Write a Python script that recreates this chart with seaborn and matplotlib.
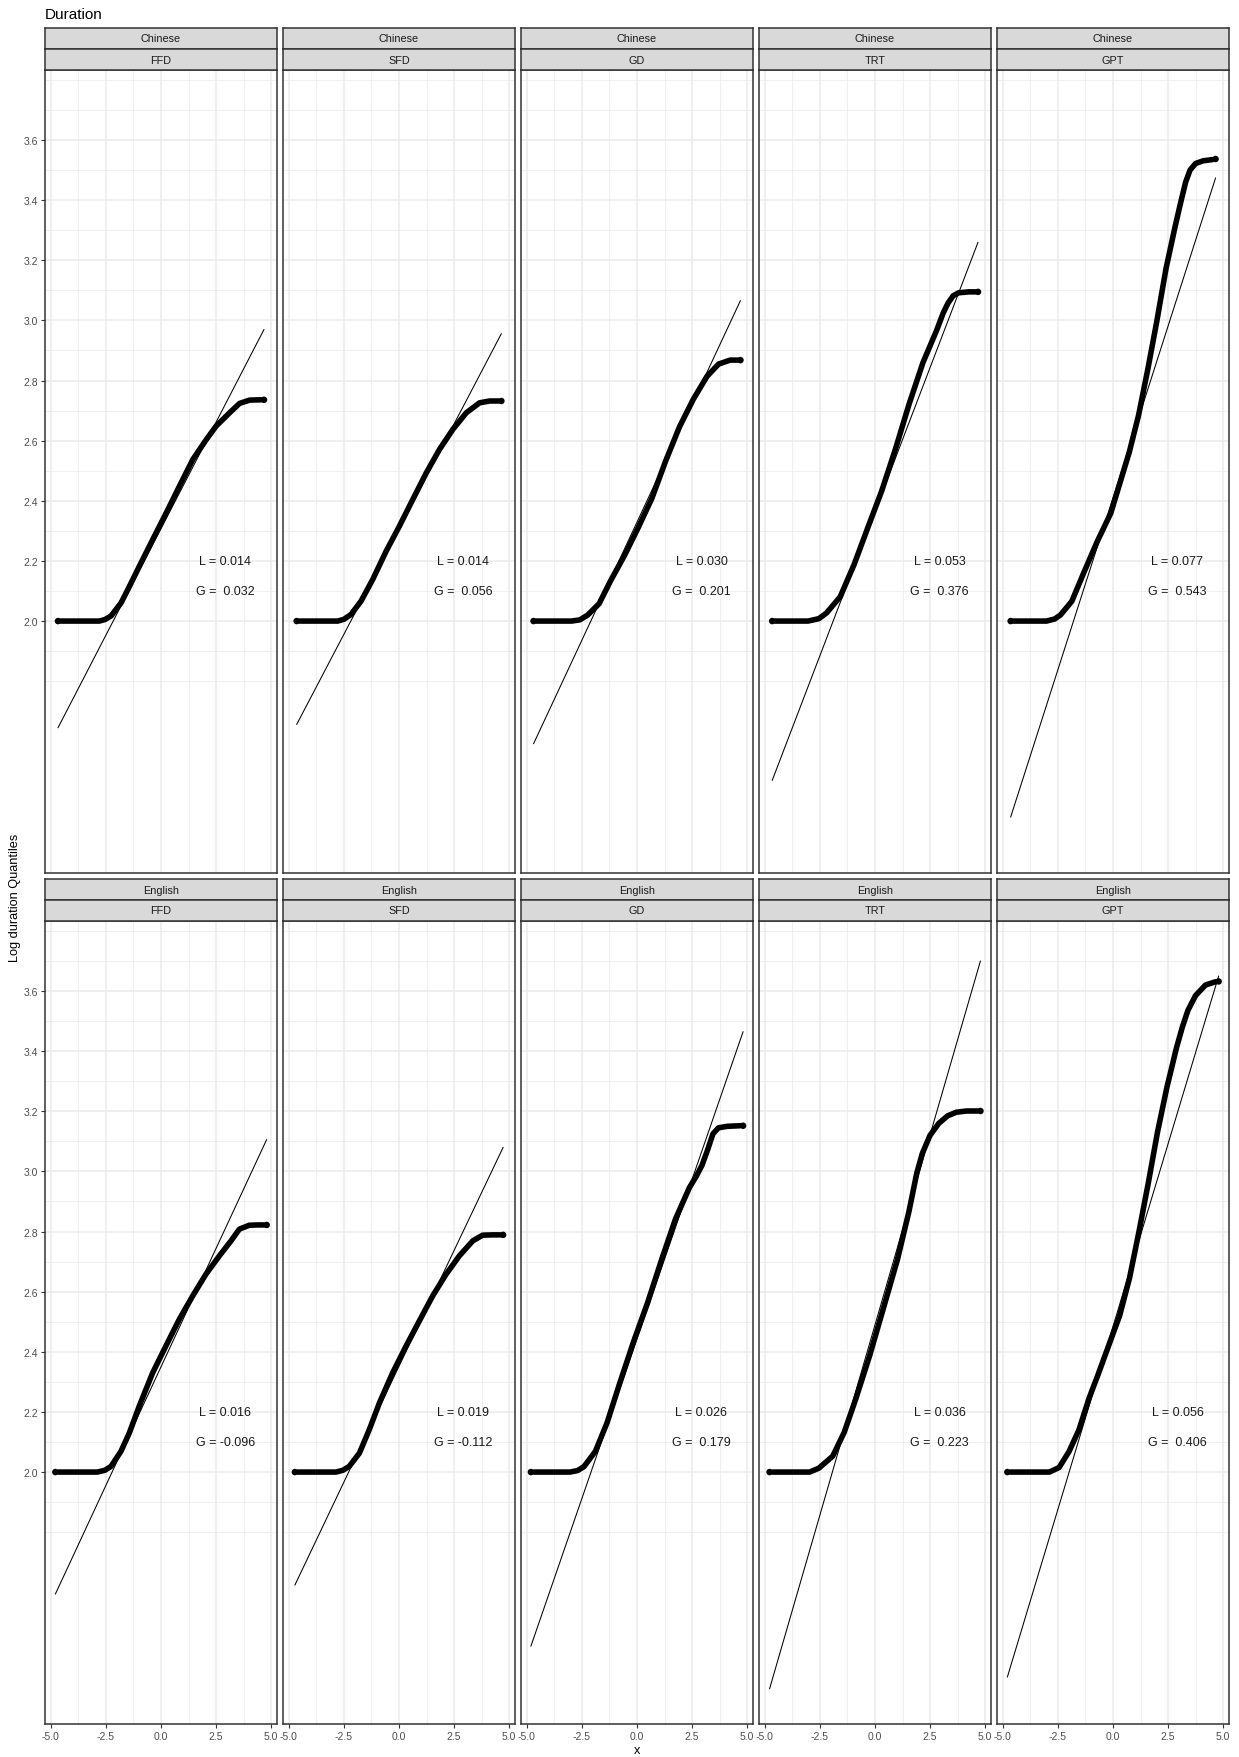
import matplotlib
matplotlib.use("Agg")
import matplotlib.pyplot as plt
import seaborn as sns
import numpy as np
import pandas as pd
from matplotlib.ticker import FixedLocator, FixedFormatter

# ---------------- data ----------------
LANGUAGES = ["Chinese", "English"]
MEASURES = ["FFD", "SFD", "GD", "TRT", "GPT"]

CN_FFD_X = [-4.68, -4.55, -3.50, -2.80, -2.55, -2.27, -1.81, -1.43, -0.98, -0.37, 0.24, 0.84, 1.45, 2.06, 2.51, 3.12, 3.57, 4.03, 4.55, 4.68]
CN_FFD_Y = [2.000, 2.000, 2.000, 2.000, 2.005, 2.017, 2.061, 2.116, 2.183, 2.272, 2.360, 2.449, 2.538, 2.604, 2.649, 2.693, 2.724, 2.735, 2.736, 2.736]
CN_FFD_LINE_X = [-4.68, 4.68]
CN_FFD_LINE_Y = [1.645, 2.970]

CN_SFD_X = [-4.65, -4.52, -3.50, -2.78, -2.50, -2.18, -1.72, -1.19, -0.58, 0.02, 0.63, 1.24, 1.84, 2.45, 3.06, 3.66, 4.12, 4.52, 4.65]
CN_SFD_Y = [2.000, 2.000, 2.000, 2.000, 2.006, 2.022, 2.067, 2.139, 2.233, 2.316, 2.405, 2.493, 2.571, 2.638, 2.693, 2.726, 2.732, 2.732, 2.732]
CN_SFD_LINE_X = [-4.65, 4.65]
CN_SFD_LINE_Y = [1.656, 2.956]

CN_GD_X = [-4.70, -4.57, -2.97, -2.60, -2.24, -1.72, -1.20, -0.57, 0.05, 0.68, 1.30, 1.93, 2.56, 3.18, 3.71, 4.23, 4.57, 4.70]
CN_GD_Y = [2.000, 2.000, 2.000, 2.004, 2.020, 2.058, 2.134, 2.218, 2.310, 2.409, 2.532, 2.646, 2.738, 2.814, 2.855, 2.868, 2.868, 2.868]
CN_GD_LINE_X = [-4.70, 4.70]
CN_GD_LINE_Y = [1.592, 3.066]

CN_TRT_X = [-4.67, -4.54, -3.04, -2.55, -2.20, -1.58, -0.95, -0.33, 0.30, 0.92, 1.55, 2.18, 2.80, 3.10, 3.32, 3.55, 3.80, 4.26, 4.55, 4.68]
CN_TRT_Y = [2.000, 2.000, 2.000, 2.008, 2.027, 2.081, 2.188, 2.310, 2.432, 2.570, 2.722, 2.860, 2.967, 3.025, 3.058, 3.082, 3.092, 3.095, 3.095, 3.095]
CN_TRT_LINE_X = [-4.67, 4.68]
CN_TRT_LINE_Y = [1.470, 3.260]

CN_GPT_X = [-4.65, -4.52, -3.02, -2.65, -2.39, -1.87, -1.35, -0.72, -0.10, 0.74, 1.16, 1.58, 1.99, 2.41, 2.83, 3.10, 3.30, 3.50, 3.75, 4.10, 4.52, 4.66]
CN_GPT_Y = [2.000, 2.000, 2.000, 2.007, 2.020, 2.066, 2.157, 2.264, 2.359, 2.562, 2.684, 2.837, 2.997, 3.173, 3.315, 3.400, 3.460, 3.500, 3.522, 3.531, 3.535, 3.537]
CN_GPT_LINE_X = [-4.65, 4.66]
CN_GPT_LINE_Y = [1.348, 3.474]

EN_FFD_X = [-4.80, -4.66, -2.89, -2.55, -2.27, -1.82, -1.44, -0.99, -0.38, 0.22, 0.83, 1.44, 2.04, 2.65, 3.18, 3.56, 4.01, 4.40, 4.66, 4.80]
EN_FFD_Y = [2.000, 2.000, 2.000, 2.006, 2.019, 2.069, 2.130, 2.219, 2.330, 2.419, 2.508, 2.586, 2.658, 2.719, 2.769, 2.808, 2.821, 2.822, 2.822, 2.822]
EN_FFD_LINE_X = [-4.80, 4.80]
EN_FFD_LINE_Y = [1.594, 3.106]

EN_SFD_X = [-4.73, -4.60, -2.86, -2.55, -2.26, -1.80, -1.35, -0.89, -0.29, 0.32, 0.92, 1.53, 2.14, 2.74, 3.35, 3.80, 4.26, 4.60, 4.73]
EN_SFD_Y = [2.000, 2.000, 2.000, 2.006, 2.019, 2.063, 2.141, 2.230, 2.330, 2.419, 2.502, 2.586, 2.658, 2.719, 2.769, 2.788, 2.789, 2.789, 2.789]
EN_SFD_LINE_X = [-4.73, 4.73]
EN_SFD_LINE_Y = [1.624, 3.080]

EN_GD_X = [-4.82, -4.68, -3.04, -2.70, -2.41, -1.89, -1.36, -0.80, -0.15, 0.48, 1.12, 1.75, 2.38, 2.70, 2.95, 3.20, 3.45, 3.70, 4.09, 4.68, 4.82]
EN_GD_Y = [2.000, 2.000, 2.000, 2.005, 2.018, 2.069, 2.164, 2.292, 2.435, 2.563, 2.707, 2.842, 2.946, 2.985, 3.020, 3.070, 3.125, 3.145, 3.150, 3.152, 3.152]
EN_GD_LINE_X = [-4.82, 4.82]
EN_GD_LINE_Y = [1.421, 3.465]

EN_TRT_X = [-4.79, -4.65, -2.97, -2.55, -1.92, -1.40, -0.87, -0.24, 0.39, 1.02, 1.54, 1.90, 2.15, 2.50, 2.90, 3.30, 3.70, 4.16, 4.65, 4.79]
EN_TRT_Y = [2.000, 2.000, 2.000, 2.013, 2.053, 2.132, 2.244, 2.388, 2.547, 2.707, 2.866, 2.995, 3.060, 3.120, 3.160, 3.185, 3.197, 3.201, 3.201, 3.201]
EN_TRT_LINE_X = [-4.79, 4.79]
EN_TRT_LINE_Y = [1.279, 3.700]

EN_GPT_X = [-4.80, -4.66, -2.89, -2.45, -2.00, -1.55, -1.09, -0.70, -0.25, 0.30, 0.75, 1.18, 1.60, 2.02, 2.45, 2.88, 3.15, 3.40, 3.75, 4.20, 4.66, 4.80]
EN_GPT_Y = [2.000, 2.000, 2.000, 2.015, 2.068, 2.140, 2.245, 2.320, 2.410, 2.520, 2.645, 2.800, 2.960, 3.130, 3.280, 3.410, 3.480, 3.535, 3.585, 3.620, 3.631, 3.632]
EN_GPT_LINE_X = [-4.80, 4.80]
EN_GPT_LINE_Y = [1.318, 3.650]

L_CHINESE = ["0.014", "0.014", "0.030", "0.053", "0.077"]
G_CHINESE = [" 0.032", " 0.056", " 0.201", " 0.376", " 0.543"]
L_ENGLISH = ["0.016", "0.019", "0.026", "0.036", "0.056"]
G_ENGLISH = ["-0.096", "-0.112", " 0.179", " 0.223", " 0.406"]

X_TICKS = [-5.0, -2.5, 0.0, 2.5, 5.0]
X_MINOR = [-3.75, -1.25, 1.25, 3.75]
Y_TICKS = [2.0, 2.2, 2.4, 2.6, 2.8, 3.0, 3.2, 3.4, 3.6]
Y_MINOR = [1.8, 1.9, 2.1, 2.3, 2.5, 2.7, 2.9, 3.1, 3.3, 3.5, 3.7, 3.8]

PANELS = {
    ("Chinese", "FFD"): (CN_FFD_X, CN_FFD_Y, CN_FFD_LINE_X, CN_FFD_LINE_Y),
    ("Chinese", "SFD"): (CN_SFD_X, CN_SFD_Y, CN_SFD_LINE_X, CN_SFD_LINE_Y),
    ("Chinese", "GD"): (CN_GD_X, CN_GD_Y, CN_GD_LINE_X, CN_GD_LINE_Y),
    ("Chinese", "TRT"): (CN_TRT_X, CN_TRT_Y, CN_TRT_LINE_X, CN_TRT_LINE_Y),
    ("Chinese", "GPT"): (CN_GPT_X, CN_GPT_Y, CN_GPT_LINE_X, CN_GPT_LINE_Y),
    ("English", "FFD"): (EN_FFD_X, EN_FFD_Y, EN_FFD_LINE_X, EN_FFD_LINE_Y),
    ("English", "SFD"): (EN_SFD_X, EN_SFD_Y, EN_SFD_LINE_X, EN_SFD_LINE_Y),
    ("English", "GD"): (EN_GD_X, EN_GD_Y, EN_GD_LINE_X, EN_GD_LINE_Y),
    ("English", "TRT"): (EN_TRT_X, EN_TRT_Y, EN_TRT_LINE_X, EN_TRT_LINE_Y),
    ("English", "GPT"): (EN_GPT_X, EN_GPT_Y, EN_GPT_LINE_X, EN_GPT_LINE_Y),
}
LABELS = {"Chinese": (L_CHINESE, G_CHINESE), "English": (L_ENGLISH, G_ENGLISH)}

# ---------------- style ----------------
sns.set_theme(style="white")
plt.rcParams['font.family'] = ['Liberation Sans', 'DejaVu Sans']
plt.rcParams['axes.unicode_minus'] = False

W, H = 1239, 1758
fig = plt.figure(figsize=(W / 100, H / 100), dpi=100)
fig.patch.set_facecolor("white")

def fx(px):
    return px / W

def fy(py):
    return 1 - py / H

PANEL_LEFT0 = 45
PANEL_W = 232
PANEL_STEP = 238
ROW_TOPS = [71, 922]
PANEL_H = 803
STRIP_H = 21
BORDER = "#333333"

for r, lang in enumerate(LANGUAGES):
    top = ROW_TOPS[r]
    for c, meas in enumerate(MEASURES):
        left = PANEL_LEFT0 + c * PANEL_STEP
        ax = fig.add_axes([fx(left), fy(top + PANEL_H), PANEL_W / W, PANEL_H / H])
        ax.set_facecolor("white")
        ax.set_xlim(-5.27, 5.27)
        ax.set_ylim(1.162, 3.833)
        ax.xaxis.set_major_locator(FixedLocator(X_TICKS))
        ax.xaxis.set_major_formatter(FixedFormatter([f"{v:.1f}" for v in X_TICKS]))
        ax.xaxis.set_minor_locator(FixedLocator(X_MINOR))
        ax.yaxis.set_major_locator(FixedLocator(Y_TICKS))
        ax.yaxis.set_major_formatter(FixedFormatter([f"{v:.1f}" for v in Y_TICKS]))
        ax.yaxis.set_minor_locator(FixedLocator(Y_MINOR))
        ax.grid(which="major", color="#EBEBEB", linewidth=1.1, zorder=0)
        ax.grid(which="minor", color="#EBEBEB", linewidth=0.55, zorder=0)
        ax.set_axisbelow(True)
        ax.tick_params(which="major", length=2.8, width=0.8, color=BORDER,
                       labelsize=7.5, labelcolor="#4D4D4D", pad=2,
                       bottom=True, left=True)
        ax.tick_params(which="minor", length=0)
        if c != 0:
            ax.tick_params(axis="y", which="both", length=0, labelleft=False)
        if r == 0:
            ax.tick_params(axis="x", which="both", length=0, labelbottom=False)
        for sp in ax.spines.values():
            sp.set_color(BORDER)
            sp.set_linewidth(1.1)
            sp.set_visible(True)

        xs, ys, lx, ly = PANELS[(lang, meas)]
        # dense quantile points -> thick curve, extreme quantiles as separate dots
        sns.lineplot(x=xs[1:-1], y=ys[1:-1], ax=ax, color="black", linewidth=4.0,
                     sort=False, estimator=None, solid_capstyle="round",
                     solid_joinstyle="round", zorder=3)
        sns.scatterplot(x=[xs[0], xs[-1]], y=[ys[0], ys[-1]], ax=ax, color="black",
                        s=22, edgecolor="none", zorder=4)
        sns.lineplot(x=lx, y=ly, ax=ax, color="black", linewidth=0.75,
                     sort=False, estimator=None, zorder=5)
        ax.set_xlabel("")
        ax.set_ylabel("")

        lvals, gvals = LABELS[lang]
        ax.text(2.93, 2.2, f"L = {lvals[c]}", ha="center", va="center",
                fontsize=9, color="#1A1A1A", zorder=6)
        ax.text(2.93, 2.1, f"G = {gvals[c]}", ha="center", va="center",
                fontsize=9, color="#1A1A1A", zorder=6)

        # strips
        for k, label in enumerate([lang, meas]):
            s_top = top - 2 * STRIP_H + k * STRIP_H
            sax = fig.add_axes([fx(left), fy(s_top + STRIP_H), PANEL_W / W, STRIP_H / H])
            sax.set_facecolor("#D9D9D9")
            sax.set_xticks([])
            sax.set_yticks([])
            for sp in sax.spines.values():
                sp.set_color(BORDER)
                sp.set_linewidth(1.1)
            sax.text(0.5, 0.5, label, ha="center", va="center", fontsize=7.8,
                     color="#1A1A1A", transform=sax.transAxes)

fig.text(fx(45), fy(15), "Duration", ha="left", va="center", fontsize=11, color="black")
fig.text(fx(15), fy(898), "Log duration Quantiles", rotation=90, ha="center",
         va="center", fontsize=9.2, color="black")
fig.text(fx(637), fy(1751), "x", ha="center", va="center", fontsize=9.2, color="black")

fig.savefig("out.png", dpi=100, facecolor="white")
